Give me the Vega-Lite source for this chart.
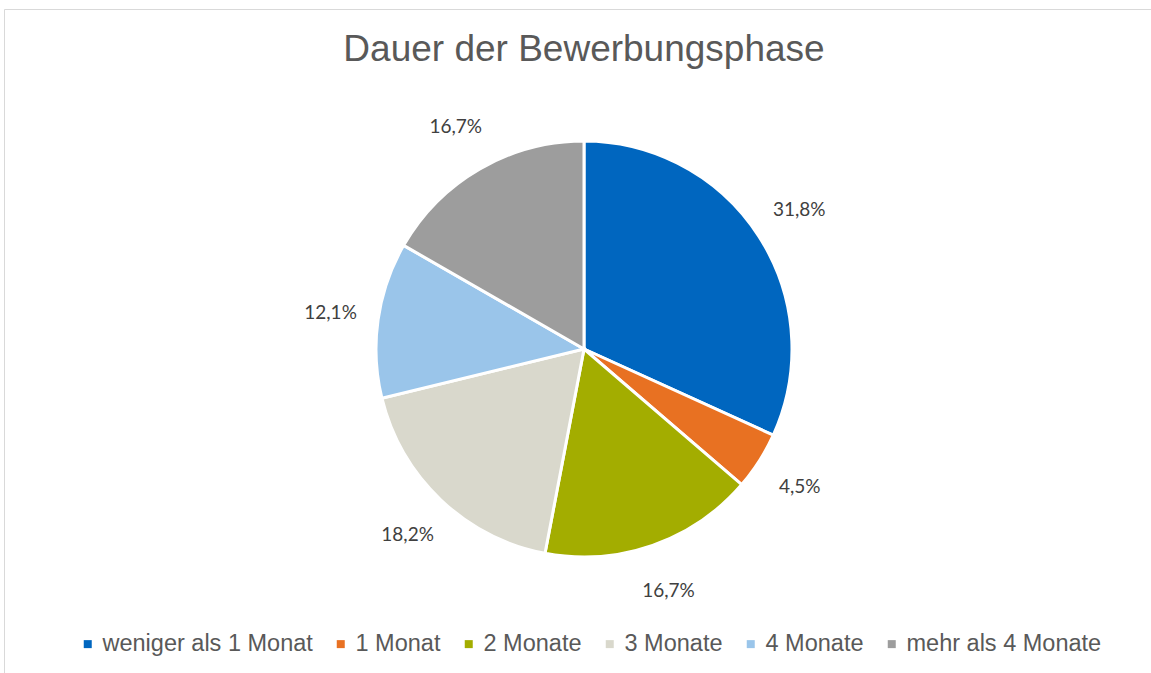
{
  "$schema": "https://vega.github.io/schema/vega-lite/v6.json",
  "width": 1160,
  "height": 680,
  "autosize": {"type": "none"},
  "padding": {"left": 4, "top": 9, "right": -13, "bottom": -16},
  "background": "white",
  "view": {"stroke": "#D9D9D9", "strokeWidth": 1},
  "config": {
    "view": {"stroke": "#D9D9D9", "strokeWidth": 1},
    "font": "Liberation Sans"
  },
  "title": {
    "text": "Dauer der Bewerbungsphase",
    "fontSize": 37,
    "font": "Liberation Sans",
    "fontWeight": "normal",
    "color": "#595959",
    "anchor": "middle",
    "frame": "group",
    "baseline": "alphabetic",
    "offset": -54,
    "dy": 35
  },
  "data": {
    "values": [
      {"idx": 1, "kategorie": "weniger als 1 Monat", "anteil": 31.8, "label": "31,8%"},
      {"idx": 2, "kategorie": "1 Monat", "anteil": 4.5, "label": "4,5%"},
      {"idx": 3, "kategorie": "2 Monate", "anteil": 16.7, "label": "16,7%"},
      {"idx": 4, "kategorie": "3 Monate", "anteil": 18.2, "label": "18,2%"},
      {"idx": 5, "kategorie": "4 Monate", "anteil": 12.1, "label": "12,1%"},
      {"idx": 6, "kategorie": "mehr als 4 Monate", "anteil": 16.7, "label": "16,7%"}
    ]
  },
  "encoding": {
    "theta": {"field": "anteil", "type": "quantitative", "stack": true},
    "order": {"field": "idx", "type": "quantitative"}
  },
  "layer": [
    {
      "mark": {"type": "arc", "outerRadius": 208, "stroke": "white", "strokeWidth": 3},
      "encoding": {
        "color": {
          "field": "kategorie",
          "type": "nominal",
          "scale": {
            "domain": ["weniger als 1 Monat", "1 Monat", "2 Monate", "3 Monate", "4 Monate", "mehr als 4 Monate"],
            "range": ["#0066BF", "#E87122", "#A3AD00", "#D9D8CC", "#9AC5EA", "#9D9D9D"]
          },
          "legend": {
            "title": null,
            "orient": "none",
            "direction": "horizontal",
            "columns": 6,
            "legendX": 72,
            "legendY": 623,
            "symbolType": "square",
            "symbolSize": 64,
            "symbolStrokeWidth": 0,
            "labelFontSize": 23.5,
            "labelFont": "Liberation Sans",
            "labelColor": "#595959",
            "labelOffset": 3,
            "columnPadding": 16,
            "labelLimit": 400
          }
        }
      }
    },
    {
      "mark": {"type": "text", "radius": 256, "fontSize": 19, "font": "Lato", "color": "#404040"},
      "encoding": {
        "text": {"field": "label", "type": "nominal"}
      }
    }
  ]
}
